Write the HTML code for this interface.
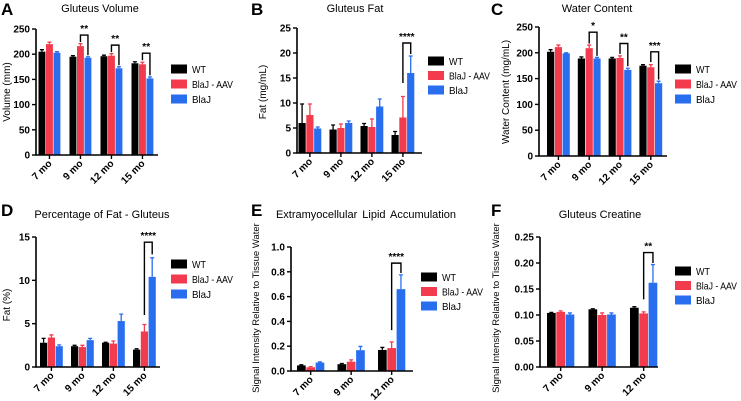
<!DOCTYPE html>
<html><head><meta charset="utf-8">
<style>
body{margin:0;background:#fff;}
svg{display:block;font-family:"Liberation Sans",Arial,sans-serif;}
</style></head>
<body>
<svg id="fig" width="741" height="401" viewBox="0 0 741 401"></svg>
<script>
// ---- data ----
const catsA=["7 mo","9 mo","12 mo","15 mo"];
const wtA=[205,195,196,182], wtAe=[4,2,2,3];
const aavA=[220,216,197,180], aavAe=[4,5,4,4];
const blaA=[203,193,172,152], blaAe=[2,2,3,3];
const ticksA=[0,50,100,150,200,250];

const catsB=["7 mo","9 mo","12 mo","15 mo"];
const wtB=[6,4.7,5.4,3.6], wtBe=[3.8,0.9,0.5,0.7];
const aavB=[7.6,5,5.2,7.1], aavBe=[2.2,0.8,1.6,4.2];
const blaB=[4.9,6,9.3,16], blaBe=[0.3,0.4,1.5,3.4];
const ticksB=[0,5,10,15,20,25];

const catsC=["7 mo","9 mo","12 mo","15 mo"];
const wtC=[202,189,189,175], wtCe=[4,3,2,2];
const aavC=[211,209,190,172], aavCe=[4,6,4,5];
const blaC=[199,189,167,141], blaCe=[1,2,3,4];
const ticksC=[0,50,100,150,200,250];

const catsD=["7 mo","9 mo","12 mo","15 mo"];
const wtD=[2.8,2.4,2.8,2.0], wtDe=[0.5,0.1,0.05,0.1];
const aavD=[3.4,2.3,2.7,4.1], aavDe=[0.3,0.2,0.3,0.8];
const blaD=[2.4,3.1,5.3,10.4], blaDe=[0.15,0.2,0.8,2.2];
const ticksD=[0,5,10,15];

const catsE=["7 mo","9 mo","12 mo"];
const wtE=[0.045,0.055,0.17], wtEe=[0.005,0.005,0.02];
const aavE=[0.03,0.075,0.185], aavEe=[0.005,0.015,0.05];
const blaE=[0.068,0.168,0.66], blaEe=[0.005,0.03,0.115];
const ticksE=[0,0.2,0.4,0.6,0.8,1.0];

const catsF=["7 mo","9 mo","12 mo"];
const wtF=[0.104,0.111,0.114], wtFe=[0.001,0.001,0.002];
const aavF=[0.106,0.1,0.103], aavFe=[0.002,0.004,0.003];
const blaF=[0.101,0.101,0.162], blaFe=[0.003,0.003,0.035];
const ticksF=[0,0.05,0.1,0.15,0.2,0.25];

// significance: [group, fromSeries, toSeries, topValue, leftLegValue, rightLegValue, label]
const sigA=[[1,1,2,238,224,198,"**"],[2,1,2,218,204,178,"**"],[3,1,2,202,188,158,"**"]];
const sigB=[[3,1,2,22,14,19.8,"****"]];
const sigC=[[1,1,2,240,218,194,"*"],[2,1,2,218,198,174,"**"],[3,1,2,202,182,148,"***"]];
const sigD=[[3,1,2,14.4,6,13,"****"]];
const sigE=[[2,1,2,0.87,0.33,0.79,"****"]];
const sigF=[[2,1,2,0.22,0.13,0.2,"**"]];

const COLORS=["#000000","#f23b4d","#2a6ef0"];
const SNAMES=["WT","BlaJ - AAV","BlaJ"];
const LEGW=[14,41,19];
const NS="http://www.w3.org/2000/svg";
const svg=document.getElementById("fig");
function mk(tag,attrs,parent,text){const e=document.createElementNS(NS,tag);for(const k in attrs)e.setAttribute(k,attrs[k]);if(text!==undefined)e.textContent=text;(parent||svg).appendChild(e);return e;}

function panel(p){
  const g=mk("g",{});
  
  
  const ymax=p.ticks[p.ticks.length-1];
  const y=v=>p.y0-(v/ymax)*(p.y0-p.y1);
  const bx=(gi,si)=>p.gx+gi*p.gstep+si*p.bw;
  let t=mk("text",{x:p.lx,y:p.ly,"font-size":17,"font-weight":"bold"},g,p.letter);
  
  t=mk("text",{x:p.tx,y:p.ty,"font-size":11,"text-anchor":"middle","word-spacing":p.ws||0},g,p.title);
  
  t=mk("text",{x:0,y:0,"font-size":p.ytfs||10,"text-anchor":"middle",transform:`translate(${p.ytx},${p.yty}) rotate(-90)`},g,p.ytitle);
  
  const series=[[p.wt,p.wte],[p.aav,p.aave],[p.bla,p.blae]];
  series.forEach((s,si)=>{
    s[0].forEach((v,gi)=>{
      const x=bx(gi,si), yt=y(v);
      const r=mk("rect",{x:x,y:yt,width:p.bw-0.6,height:p.y0-yt,fill:COLORS[si]},g);
      
      
      const cx=x+(p.bw-0.6)/2, ye=y(v+s[1][gi]);
      const eb=mk("path",{d:`M${cx},${yt} V${ye} M${cx-2},${ye} H${cx+2}`,stroke:COLORS[si],"stroke-width":1.3,fill:"none"},g);
      
    });
  });
  const ax=mk("path",{d:`M${p.ax},${p.y1} V${p.y0} H${p.axEnd}`,stroke:"#000","stroke-width":1.6,fill:"none"},g);
  
  p.ticks.forEach(v=>{
    const tk=mk("path",{d:`M${p.ax-4},${y(v)} H${p.ax}`,stroke:"#000","stroke-width":1.4},g);
    
    const tl=mk("text",{x:p.ax-6,y:y(v)+3.5,"font-size":10,"font-weight":"bold","text-anchor":"end"},g,p.fmt(v));
    
  });
  p.cats.forEach((c,gi)=>{
    const cx=bx(gi,1.5)-0.3;
    const tk=mk("path",{d:`M${cx},${p.y0} V${p.y0+4}`,stroke:"#000","stroke-width":1.4},g);
    
    const tl=mk("text",{x:0,y:0,"font-size":10,"font-weight":"bold","text-anchor":"end",transform:`translate(${cx+3},${p.y0+9}) rotate(-45)`},g,c);
    
  });
  p.sig.forEach(s=>{
    const xa=bx(s[0],s[1])+(p.bw-0.6)/2, xb=bx(s[0],s[2])+(p.bw-0.6)/2, yt=y(s[3]);
    const br=mk("path",{d:`M${xa},${y(s[4])} V${yt} H${xb} V${y(s[5])}`,stroke:"#000","stroke-width":1.4,fill:"none"},g);
    
    const sl=mk("text",{x:(xa+xb)/2,y:yt-3,"font-size":10,"font-weight":"bold","text-anchor":"middle"},g,s[6]);
    
  });
  SNAMES.forEach((n,i)=>{
    const yy=p.legY+i*p.legStep;
    const sw=mk("rect",{x:p.legX,y:yy-4.5,width:16,height:9,fill:COLORS[i]},g);
    
    const lt=mk("text",{x:p.legX+21,y:yy+4,"font-size":10.5,textLength:LEGW[i],lengthAdjust:"spacingAndGlyphs"},g,n);
    
  });
}
const f0=v=>String(v), f1=v=>v.toFixed(1), f2=v=>v.toFixed(2);
panel({letter:"A",lx:1,ly:15,title:"Gluteus Volume",tx:100,ty:12,ytitle:"Volume (mm)",ytx:10,yty:92,
  cats:catsA,wt:wtA,wte:wtAe,aav:aavA,aave:aavAe,bla:blaA,blae:blaAe,ticks:ticksA,fmt:f0,sig:sigA,
  ax:36,axEnd:158,y0:155,y1:29,gx:38.5,gstep:31,bw:7.5,legX:171,legY:69,legStep:15});
panel({letter:"B",lx:251,ly:15,title:"Gluteus Fat",tx:355,ty:12,ytitle:"Fat (mg/mL)",ytx:266,yty:92,
  cats:catsB,wt:wtB,wte:wtBe,aav:aavB,aave:aavBe,bla:blaB,blae:blaBe,ticks:ticksB,fmt:f0,sig:sigB,
  ax:297,axEnd:422,y0:153,y1:28,gx:298.5,gstep:31,bw:7.8,legX:428,legY:61,legStep:14.5});
panel({letter:"C",lx:491,ly:15,title:"Water Content",tx:597,ty:12,ytitle:"Water Content (mg/mL)",ytx:509,yty:92,
  cats:catsC,wt:wtC,wte:wtCe,aav:aavC,aave:aavCe,bla:blaC,blae:blaCe,ticks:ticksC,fmt:f0,sig:sigC,
  ax:539,axEnd:667,y0:156,y1:27,gx:547,gstep:30.8,bw:7.8,legX:675,legY:69,legStep:15});
panel({letter:"D",lx:1,ly:216,title:"Percentage of Fat - Gluteus",tx:102,ty:218,ytitle:"Fat (%)",ytx:10,yty:305,
  cats:catsD,wt:wtD,wte:wtDe,aav:aavD,aave:aavDe,bla:blaD,blae:blaDe,ticks:ticksD,fmt:f0,sig:sigD,
  ax:36,axEnd:160,y0:367,y1:237,gx:40,gstep:31,bw:7.8,legX:171,legY:264,legStep:15});
panel({letter:"E",lx:251,ly:216,title:"Extramyocellular  Lipid  Accumulation",tx:366,ty:218,ws:2,ytitle:"Signal Intensity Relative to Tissue Water",ytfs:9.5,ytx:259,yty:308,
  cats:catsE,wt:wtE,wte:wtEe,aav:aavE,aave:aavEe,bla:blaE,blae:blaEe,ticks:ticksE,fmt:f1,sig:sigE,
  ax:291,axEnd:413,y0:371,y1:247,gx:297,gstep:40.5,bw:9.3,legX:421,legY:277,legStep:14.5});
panel({letter:"F",lx:491,ly:216,title:"Gluteus Creatine",tx:600,ty:218,ytitle:"Signal Intensity Relative to Tissue Water",ytfs:9.5,ytx:499,yty:308,
  cats:catsF,wt:wtF,wte:wtFe,aav:aavF,aave:aavFe,bla:blaF,blae:blaFe,ticks:ticksF,fmt:f2,sig:sigF,
  ax:540,axEnd:658,y0:367,y1:237,gx:547,gstep:41.5,bw:9.3,legX:675,legY:271,legStep:14.5});
</script>
</body></html>
